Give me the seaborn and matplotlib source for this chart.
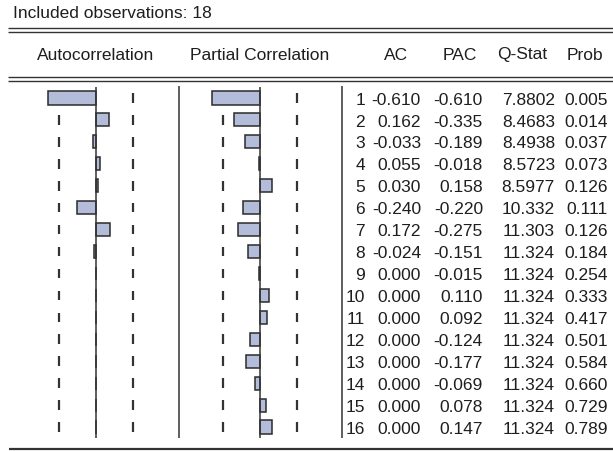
import numpy as np
import pandas as pd
import matplotlib
matplotlib.use("Agg")
import matplotlib.pyplot as plt
import matplotlib.transforms as mtransforms
import seaborn as sns

sns.set_theme(style="white")
plt.rcParams["font.family"] = ["Liberation Sans", "DejaVu Sans"]

# correlogram values (EViews output)
nobs = 18
lags = [str(i) for i in range(1, 17)]
ac = [-0.610, 0.162, -0.033, 0.055, 0.030, -0.240, 0.172, -0.024,
      0.000, 0.000, 0.000, 0.000, 0.000, 0.000, 0.000, 0.000]
pac = [-0.610, -0.335, -0.189, -0.018, 0.158, -0.220, -0.275, -0.151,
       -0.015, 0.110, 0.092, -0.124, -0.177, -0.069, 0.078, 0.147]
qstat = [7.8802, 8.4683, 8.4938, 8.5723, 8.5977, 10.332, 11.303, 11.324,
         11.324, 11.324, 11.324, 11.324, 11.324, 11.324, 11.324, 11.324]
prob = [0.005, 0.014, 0.037, 0.073, 0.126, 0.111, 0.126, 0.184,
        0.254, 0.333, 0.417, 0.501, 0.584, 0.660, 0.729, 0.789]

df = pd.DataFrame({"lag": lags, "ac": ac, "pac": pac})
bound = 2 / np.sqrt(nobs)

W, H = 613, 452
bar_color = "#b3bcd9"
line_color = "#333333"
txt_color = "#1e1e1e"
fs = 12.5


def rect(x0, y0, x1, y1):
    # pixel box -> figure fraction
    return [x0 / W, 1 - y1 / H, (x1 - x0) / W, (y1 - y0) / H]


fig = plt.figure(figsize=(W / 100, H / 100), dpi=100)
bg = fig.add_axes([0, 0, 1, 1])
bg.set_xlim(0, W)
bg.set_ylim(H, 0)
bg.axis("off")

scale = 79  # pixels per unit of correlation
panels = [("ac", 10, 178, 96), ("pac", 181, 340, 260)]
axes = []
for col, x0, x1, zero in panels:
    ax = fig.add_axes(rect(x0, 88, x1, 439))
    sns.barplot(data=df, x=col, y="lag", order=lags, orient="h",
                color=bar_color, edgecolor="#2b2b2b", linewidth=1.1,
                width=0.6, saturation=1, ax=ax, zorder=2)
    pos = np.arange(len(lags))
    ax.vlines([-bound] * len(pos), pos - 0.22, pos + 0.22,
              color=line_color, lw=1.6, zorder=1)
    ax.vlines([bound] * len(pos), pos - 0.22, pos + 0.22,
              color=line_color, lw=1.6, zorder=1)
    ax.axvline(0, color=line_color, lw=1.1, zorder=3)
    ax.set_xlim((x0 - zero) / scale, (x1 - zero) / scale)
    ax.set_ylim(len(lags) - 0.5, -0.5)
    ax.axis("off")
    axes.append(ax)

# frame rules
for y in (29, 32.5, 78, 81.5):
    bg.hlines(y, 8, W, color=line_color, lw=1.0)
bg.hlines(450, 9, W, color=line_color, lw=1.6)
bg.vlines([179, 342], 87, 439, color=line_color, lw=1.1)

bg.text(13, 13, "Included observations: 18", fontsize=fs, ha="left",
        va="center", color=txt_color)
bg.text(96, 55, "Autocorrelation", fontsize=fs, ha="center", va="center", color=txt_color)
bg.text(260, 55, "Partial Correlation", fontsize=fs, ha="center", va="center", color=txt_color)
for label, xr in [("AC", 408), ("PAC", 477), ("Q-Stat", 547), ("Prob", 603)]:
    bg.text(xr, 55, label, fontsize=fs, ha="right", va="center", color=txt_color)

# table rows aligned to the bar rows
trans = mtransforms.blended_transform_factory(bg.transData, axes[0].transData)
for i in range(len(lags)):
    cells = [lags[i], f"{ac[i]:.3f}", f"{pac[i]:.3f}", f"{qstat[i]:.5g}", f"{prob[i]:.3f}"]
    for txt, xr in zip(cells, [365, 421, 483, 555, 608]):
        bg.text(xr, i + 0.05, txt, transform=trans, fontsize=fs, ha="right",
                va="center", color=txt_color)

fig.savefig("out.png", dpi=100, facecolor="white")
